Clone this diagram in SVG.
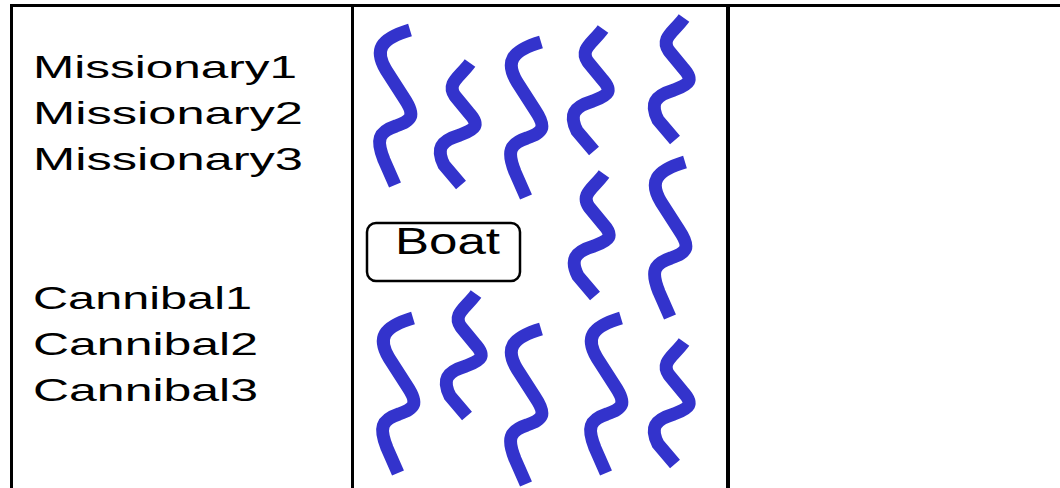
<svg xmlns="http://www.w3.org/2000/svg" xmlns:xlink="http://www.w3.org/1999/xlink" width="1060" height="488" viewBox="0 0 1060 488">
<style>
.frame{fill:#000;shape-rendering:crispEdges}
.lbl{font-family:"Liberation Sans",Arial,sans-serif;font-size:32px;fill:#000}
.boat{fill:#fff;stroke:#000;stroke-width:2.5}
.boattxt{font-family:"Liberation Sans",Arial,sans-serif;font-size:36px;fill:#000}
.wave{fill:none;stroke:#3333cc;stroke-width:13;stroke-linecap:butt;stroke-linejoin:round}
</style>
<defs>
<path id="tall" class="wave" d="M0,0 C-30,9 -36,20 -24,40 L-6,68 C6,86 2,90 -14,96 C-32,102 -34,110 -26,130 L-15,155"/>
<path id="short" class="wave" d="M0,0 C-10,14 -24,20 -15,33 L-1,50 C10,62 6,66 -10,72 C-30,78 -34,86 -26,102 L-9,122"/>
</defs>
<rect width="1060" height="488" fill="#fff"/>
<g id="frame">
<rect class="frame" x="10" y="4" width="1050" height="3"/>
<rect class="frame" x="10" y="4" width="3" height="484"/>
<rect class="frame" x="351" y="4" width="3" height="484"/>
<rect class="frame" x="726" y="4" width="4" height="484"/>
</g>
<g id="missionaries">
<text class="lbl" x="33" y="78" textLength="264" lengthAdjust="spacingAndGlyphs">Missionary1</text>
<text class="lbl" x="33" y="124" textLength="270" lengthAdjust="spacingAndGlyphs">Missionary2</text>
<text class="lbl" x="33" y="170" textLength="270" lengthAdjust="spacingAndGlyphs">Missionary3</text>
</g>
<g id="cannibals">
<text class="lbl" x="33" y="309" textLength="219" lengthAdjust="spacingAndGlyphs">Cannibal1</text>
<text class="lbl" x="33" y="355" textLength="225" lengthAdjust="spacingAndGlyphs">Cannibal2</text>
<text class="lbl" x="33" y="401" textLength="225" lengthAdjust="spacingAndGlyphs">Cannibal3</text>
</g>
<g id="boat">
<rect class="boat" x="367" y="223" width="153" height="58" rx="9"/>
<text class="boattxt" x="395" y="254" textLength="105" lengthAdjust="spacingAndGlyphs">Boat</text>
</g>
<g id="river">
<use xlink:href="#tall" x="410" y="30"/>
<use xlink:href="#short" x="470" y="63"/>
<use xlink:href="#tall" x="541" y="42"/>
<use xlink:href="#short" x="603" y="29"/>
<use xlink:href="#short" x="684" y="18"/>
<use xlink:href="#short" x="604" y="174"/>
<use xlink:href="#tall" x="685" y="162"/>
<use xlink:href="#tall" x="413" y="318"/>
<use xlink:href="#short" x="476" y="294"/>
<use xlink:href="#tall" x="541" y="329"/>
<use xlink:href="#tall" x="621" y="318"/>
<use xlink:href="#short" x="684" y="342"/>
</g>
</svg>
